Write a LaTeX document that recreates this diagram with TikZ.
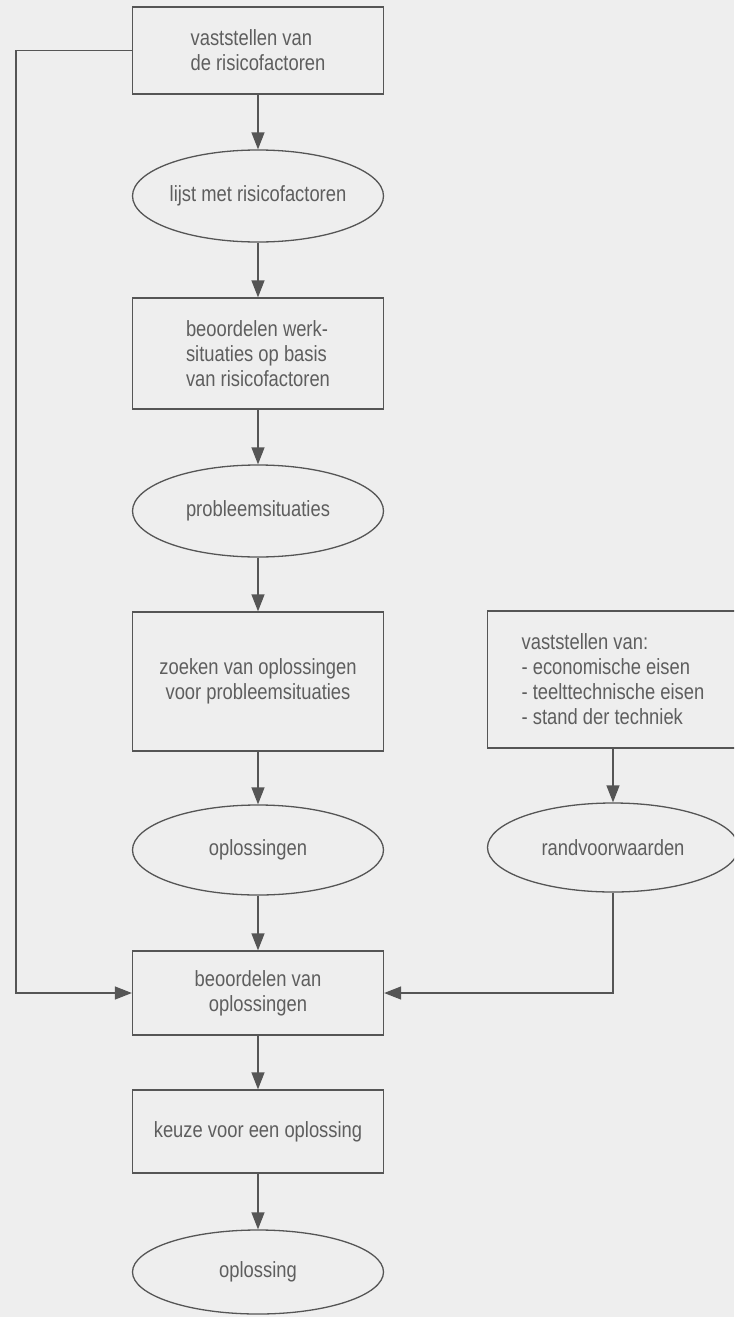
\documentclass[tikz,border=0pt]{standalone}
\usepackage{fontspec}
\setmainfont[FakeStretch=0.835]{Liberation Sans}
\usetikzlibrary{arrows.meta,shapes.geometric}
\definecolor{paper}{HTML}{EEEEEE}
\definecolor{ink}{HTML}{555555}
\definecolor{txt}{HTML}{5E5E5E}
\begin{document}
\begin{tikzpicture}[x=1pt,y=-1pt,
  every node/.style={font=\fontsize{22}{25}\selectfont, text=txt, align=center},
  box/.style={draw=ink, line width=1.3pt, rectangle, minimum width=251pt, inner sep=0pt},
  oval/.style={draw=ink, line width=1.3pt, ellipse, minimum width=251pt, inner sep=0pt},
  arr/.style={draw=ink, line width=1.3pt, -{Triangle[length=17pt,width=13pt]}}]

% page
\useasboundingbox (0,0) rectangle (734,1317);
\fill[paper] (0,0) rectangle (734,1317);
\clip (0,0) rectangle (734,1317);

% main column
\node[box, minimum height=87pt, align=left] (b1) at (258,50.5) {vaststellen van\\de risicofactoren};
\node[oval, minimum height=92pt] (e1) at (258,196) {lijst met risicofactoren};
\node[box, minimum height=111pt, align=left] (b2) at (258,353.5) {beoordelen werk-\\situaties op basis\\van risicofactoren};
\node[oval, minimum height=92pt] (e2) at (258,511) {probleemsituaties};
\node[box, minimum height=139pt] (b3) at (258,681.5) {zoeken van oplossingen\\voor probleemsituaties};
\node[oval, minimum height=90pt] (e3) at (258,850) {oplossingen};
\node[box, minimum height=84pt] (b4) at (258,993) {beoordelen van\\oplossingen};
\node[box, minimum height=83pt] (b5) at (258,1131.5) {keuze voor een oplossing};
\node[oval, minimum height=84pt] (e5) at (258,1272) {oplossing};

% side column
\node[box, minimum height=137pt, align=left] (br) at (613,679.5) {vaststellen van:\\- economische eisen\\- teelttechnische eisen\\- stand der techniek};
\node[oval, minimum height=89pt] (er) at (613,847.5) {randvoorwaarden};

% feedback rail on the left
\coordinate (rail) at (16,500);

% connectors
\draw[arr] (b1) -- (e1);
\draw[arr] (e1) -- (b2);
\draw[arr] (b2) -- (e2);
\draw[arr] (e2) -- (b3);
\draw[arr] (b3) -- (e3);
\draw[arr] (e3) -- (b4);
\draw[arr] (b4) -- (b5);
\draw[arr] (b5) -- (e5);
\draw[arr] (br) -- (er);
\draw[arr] (er.south) |- (b4.east);
\draw[arr] (b1.west) -| (rail) |- (b4.west);
\end{tikzpicture}
\end{document}
